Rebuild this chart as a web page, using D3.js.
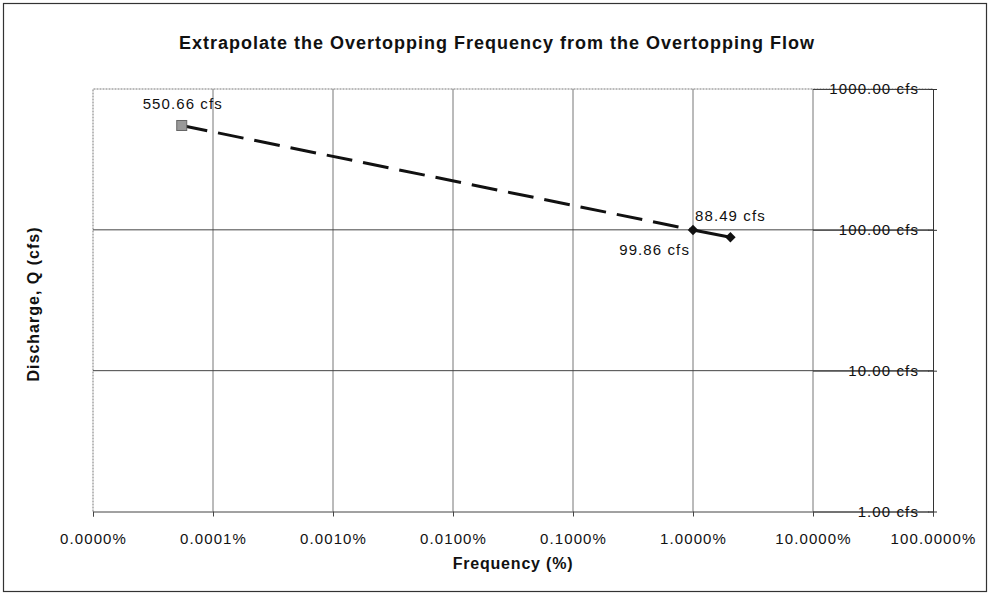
<html>
    <head>
        <script src="https://cdnjs.cloudflare.com/ajax/libs/d3/7.8.5/d3.min.js"></script>
        <style>
            body { margin: 0; background: #fff; }
            text { font-family: "Liberation Sans", Arial, sans-serif; fill: #111; }
        </style>
    </head>
    <body>
        <svg width="990" height="597"></svg>
        <script>
            // frequency in percent, discharge in cfs
            let extrapFreq = [0.0000549, 1.0];
            let extrapFlow = [550.66, 99.86];
            let curveFreq = [1.0, 2.05];
            let curveFlow = [99.86, 88.49];
            let xTicks = [0.00001, 0.0001, 0.001, 0.01, 0.1, 1, 10, 100];
            let yTicks = [1, 10, 100, 1000];

            var svg = d3.select("svg");
            var plotLeft = 93, plotRight = 933, plotTop = 89, plotBottom = 511.5;

            var x = d3.scaleLog().domain([0.00001, 100]).range([plotLeft, plotRight]);
            var y = d3.scaleLog().domain([1, 1000]).range([plotBottom, plotTop]);

            var tickFont = "15px", tickSpacing = "1.1px";

            // outer frame
            svg.append("rect")
                .attr("x", 3.5).attr("y", 3.5).attr("width", 983).attr("height", 588)
                .style("fill", "none").style("stroke", "#333").style("stroke-width", 1.2);

            // plot border (top, left dotted)
            svg.append("path")
                .attr("d", `M${plotLeft},${plotBottom}V${plotTop}H${plotRight}`)
                .style("fill", "none").style("stroke", "#777")
                .style("stroke-dasharray", "2,1");

            // grid lines
            svg.selectAll("line.vgrid")
                .data(xTicks.slice(1, -1))
                .enter().append("line")
                .attr("class", "vgrid")
                .attr("x1", d => x(d)).attr("x2", d => x(d))
                .attr("y1", plotTop).attr("y2", plotBottom)
                .style("stroke", "#777").style("stroke-width", 1);

            svg.selectAll("line.hgrid")
                .data(yTicks.slice(1, -1))
                .enter().append("line")
                .attr("class", "hgrid")
                .attr("x1", plotLeft).attr("x2", plotRight)
                .attr("y1", d => y(d)).attr("y2", d => y(d))
                .style("stroke", "#444").style("stroke-width", 1);

            // x axis
            var xAxis = d3.axisBottom(x)
                .tickValues(xTicks)
                .tickSize(5)
                .tickFormat(d => d3.format(".4f")(d) + "%");
            var gx = svg.append("g")
                .attr("transform", `translate(0,${plotBottom})`)
                .call(xAxis);
            gx.select(".domain").style("stroke", "#444");
            gx.selectAll(".tick line").style("stroke", "#444");
            gx.selectAll(".tick text")
                .attr("y", 0)
                .attr("dy", "32")
                .style("font-size", tickFont)
                .style("letter-spacing", tickSpacing)
                .style("font-family", "Liberation Sans, Arial, sans-serif")
                .style("fill", "#111");

            // y axis on the right, labels inside
            var yAxis = d3.axisLeft(y)
                .tickValues(yTicks)
                .tickSizeInner(-4)
                .tickSizeOuter(0)
                .tickPadding(14)
                .tickFormat(d => d3.format(".2f")(d) + " cfs");
            var gy = svg.append("g")
                .attr("transform", `translate(${plotRight},0)`)
                .call(yAxis);
            gy.select(".domain").style("stroke", "#333");
            gy.selectAll(".tick line")
                .attr("x1", -5).attr("x2", 4)
                .style("stroke", "#333");
            gy.selectAll(".tick").insert("line", "text")
                .attr("x1", -120).attr("x2", -4)
                .style("stroke", "#444");
            gy.selectAll(".tick text")
                .style("font-size", tickFont)
                .style("letter-spacing", tickSpacing)
                .style("font-family", "Liberation Sans, Arial, sans-serif")
                .style("fill", "#111");

            var line = d3.line()
                .x(d => x(d[0]))
                .y(d => y(d[1]));

            // extrapolation dashed line
            svg.append("path")
                .datum(d3.zip(extrapFreq, extrapFlow))
                .attr("d", line)
                .style("fill", "none").style("stroke", "#111")
                .style("stroke-width", 3)
                .style("stroke-dasharray", "26,11");

            // rating curve solid
            svg.append("path")
                .datum(d3.zip(curveFreq, curveFlow))
                .attr("d", line)
                .style("fill", "none").style("stroke", "#111")
                .style("stroke-width", 3);

            // square marker for overtopping flow
            svg.append("rect")
                .attr("x", x(extrapFreq[0]) - 5).attr("y", y(extrapFlow[0]) - 5)
                .attr("width", 10).attr("height", 10)
                .style("fill", "#999").style("stroke", "#666");

            // diamond markers
            svg.selectAll("path.diamond")
                .data(d3.zip(curveFreq, curveFlow))
                .enter().append("path")
                .attr("class", "diamond")
                .attr("d", d3.symbol().type(d3.symbolDiamond2).size(70))
                .attr("transform", d => `translate(${x(d[0])},${y(d[1])})`)
                .style("fill", "#111");

            // data labels
            var fmt = d => d3.format(".2f")(d) + " cfs";
            var labels = svg.append("g")
                .style("font-size", tickFont)
                .style("letter-spacing", tickSpacing);
            labels.append("text")
                .attr("x", x(extrapFreq[0]) + 1).attr("y", y(extrapFlow[0]) - 16)
                .attr("text-anchor", "middle")
                .text(fmt(extrapFlow[0]));
            labels.append("text")
                .attr("x", x(curveFreq[0]) + 2).attr("y", y(curveFlow[1]) - 16)
                .text(fmt(curveFlow[1]));
            labels.append("text")
                .attr("x", x(curveFreq[0]) - 3).attr("y", y(curveFlow[0]) + 25)
                .attr("text-anchor", "end")
                .text(fmt(curveFlow[0]));

            // titles
            svg.append("text")
                .attr("x", 497).attr("y", 49)
                .attr("text-anchor", "middle")
                .style("font-size", "18px").style("font-weight", "bold")
                .style("letter-spacing", "1px")
                .text("Extrapolate the Overtopping Frequency from the Overtopping Flow");

            svg.append("text")
                .attr("x", 513).attr("y", 569)
                .attr("text-anchor", "middle")
                .style("font-size", "16px").style("font-weight", "bold")
                .style("letter-spacing", "0.8px")
                .text("Frequency (%)");

            svg.append("text")
                .attr("transform", "translate(39,304) rotate(-90)")
                .attr("text-anchor", "middle")
                .style("font-size", "16px").style("font-weight", "bold")
                .style("letter-spacing", "1px")
                .text("Discharge, Q (cfs)");
        </script>
    </body>
</html>
